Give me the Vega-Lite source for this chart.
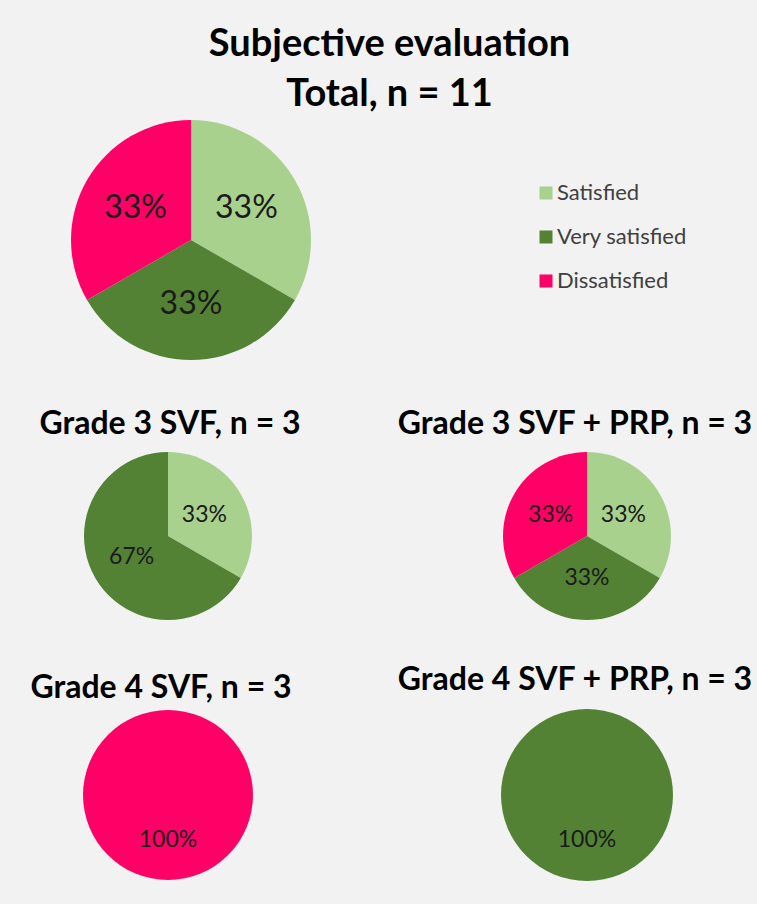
{
  "$schema": "https://vega.github.io/schema/vega-lite/v6.json",
  "background": "#f2f2f2",
  "padding": {"left": 0, "top": 26, "right": 4, "bottom": 24},
  "title": {
    "text": ["Subjective evaluation", "Total, n = 11"],
    "font": "Lato", "fontSize": 38, "fontWeight": "bold", "lineHeight": 50,
    "color": "#000000", "anchor": "middle", "dx": 12, "offset": -4
  },
  "datasets": {
    "pies": [
      {"group": "Total", "category": "Satisfied", "rank": 1, "pct": 0.3333},
      {"group": "Total", "category": "Very satisfied", "rank": 2, "pct": 0.3333},
      {"group": "Total", "category": "Dissatisfied", "rank": 3, "pct": 0.3333},
      {"group": "G3SVF", "category": "Satisfied", "rank": 1, "pct": 0.3333},
      {"group": "G3SVF", "category": "Very satisfied", "rank": 2, "pct": 0.6667},
      {"group": "G3PRP", "category": "Satisfied", "rank": 1, "pct": 0.3333},
      {"group": "G3PRP", "category": "Very satisfied", "rank": 2, "pct": 0.3333},
      {"group": "G3PRP", "category": "Dissatisfied", "rank": 3, "pct": 0.3333},
      {"group": "G4SVF", "category": "Dissatisfied", "rank": 3, "pct": 1.0},
      {"group": "G4PRP", "category": "Very satisfied", "rank": 2, "pct": 1.0}
    ]
  },
  "vconcat": [
    {
      "width": 382, "height": 260,
      "data": {"name": "pies"},
      "transform": [{"filter": "datum.group === 'Total'"}],
      "encoding": {
        "theta": {"field": "pct", "type": "quantitative", "stack": true},
        "order": {"field": "rank", "type": "quantitative"},
        "detail": {"field": "category", "type": "nominal"}
      },
      "layer": [
        {"mark": {"type": "arc", "outerRadius": 120},
         "encoding": {"color": {
          "field": "category", "type": "nominal",
          "scale": {"domain": ["Satisfied", "Very satisfied", "Dissatisfied"], "range": ["#a9d18e", "#548235", "#ff0066"]},
          "legend": {
            "title": null, "orient": "none", "legendX": 535, "legendY": 72,
            "symbolType": "square", "symbolSize": 169, "symbolStrokeWidth": 0,
            "labelFont": "Lato", "labelFontSize": 22, "labelColor": "#404040",
            "rowPadding": 22, "labelOffset": 0
          }
        }}},
        {"mark": {"type": "text", "radius": 64, "font": "Lato", "fontSize": 32, "color": "#1a1a1a"},
         "encoding": {"text": {"field": "pct", "type": "quantitative", "format": ".0%"}}}
      ]
    },
    {
      "spacing": 83,
      "bounds": "flush",
      "hconcat": [
        {
          "width": 336, "height": 180,
          "title": {"text": "Grade 3 SVF, n = 3", "dx": 2, "offset": 5},
          "data": {"name": "pies"},
          "transform": [{"filter": "datum.group === 'G3SVF'"}],
          "encoding": {
            "theta": {"field": "pct", "type": "quantitative", "stack": true},
            "order": {"field": "rank", "type": "quantitative"},
            "detail": {"field": "category", "type": "nominal"}
          },
          "layer": [
            {"mark": {"type": "arc", "outerRadius": 84}, "encoding": {"color": {"field": "category", "type": "nominal"}}},
            {"mark": {"type": "text", "radius": 42, "font": "Lato", "fontSize": 23, "color": "#1a1a1a"},
             "encoding": {"text": {"field": "pct", "type": "quantitative", "format": ".0%"}}}
          ]
        },
        {
          "width": 336, "height": 180,
          "title": {"text": "Grade 3 SVF + PRP, n = 3", "dx": -12, "offset": 5},
          "data": {"name": "pies"},
          "transform": [{"filter": "datum.group === 'G3PRP'"}],
          "encoding": {
            "theta": {"field": "pct", "type": "quantitative", "stack": true},
            "order": {"field": "rank", "type": "quantitative"},
            "detail": {"field": "category", "type": "nominal"}
          },
          "layer": [
            {"mark": {"type": "arc", "outerRadius": 84}, "encoding": {"color": {"field": "category", "type": "nominal"}}},
            {"mark": {"type": "text", "radius": 42, "font": "Lato", "fontSize": 23, "color": "#1a1a1a"},
             "encoding": {"text": {"field": "pct", "type": "quantitative", "format": ".0%"}}}
          ]
        }
      ]
    },
    {
      "spacing": 83,
      "bounds": "flush",
      "hconcat": [
        {
          "width": 336, "height": 166,
          "title": {"text": "Grade 4 SVF, n = 3", "dx": -7, "offset": 5},
          "data": {"name": "pies"},
          "transform": [{"filter": "datum.group === 'G4SVF'"}],
          "encoding": {
            "theta": {"field": "pct", "type": "quantitative", "stack": true},
            "order": {"field": "rank", "type": "quantitative"},
            "detail": {"field": "category", "type": "nominal"}
          },
          "layer": [
            {"mark": {"type": "arc", "outerRadius": 85}, "encoding": {"color": {"field": "category", "type": "nominal"}}},
            {"mark": {"type": "text", "radius": 45, "font": "Lato", "fontSize": 23, "color": "#1a1a1a"},
             "encoding": {"text": {"field": "pct", "type": "quantitative", "format": ".0%"}}}
          ]
        },
        {
          "width": 336, "height": 166,
          "title": {"text": "Grade 4 SVF + PRP, n = 3", "dx": -12, "offset": 12},
          "data": {"name": "pies"},
          "transform": [{"filter": "datum.group === 'G4PRP'"}],
          "encoding": {
            "theta": {"field": "pct", "type": "quantitative", "stack": true},
            "order": {"field": "rank", "type": "quantitative"},
            "detail": {"field": "category", "type": "nominal"}
          },
          "layer": [
            {"mark": {"type": "arc", "outerRadius": 86}, "encoding": {"color": {"field": "category", "type": "nominal"}}},
            {"mark": {"type": "text", "radius": 45, "font": "Lato", "fontSize": 23, "color": "#1a1a1a"},
             "encoding": {"text": {"field": "pct", "type": "quantitative", "format": ".0%"}}}
          ]
        }
      ]
    }
  ],
  "spacing": 38,
  "config": {
    "view": {"stroke": null},
    "title": {"font": "Lato", "fontSize": 32, "fontWeight": "bold", "color": "#000000", "offset": 8}
  }
}
